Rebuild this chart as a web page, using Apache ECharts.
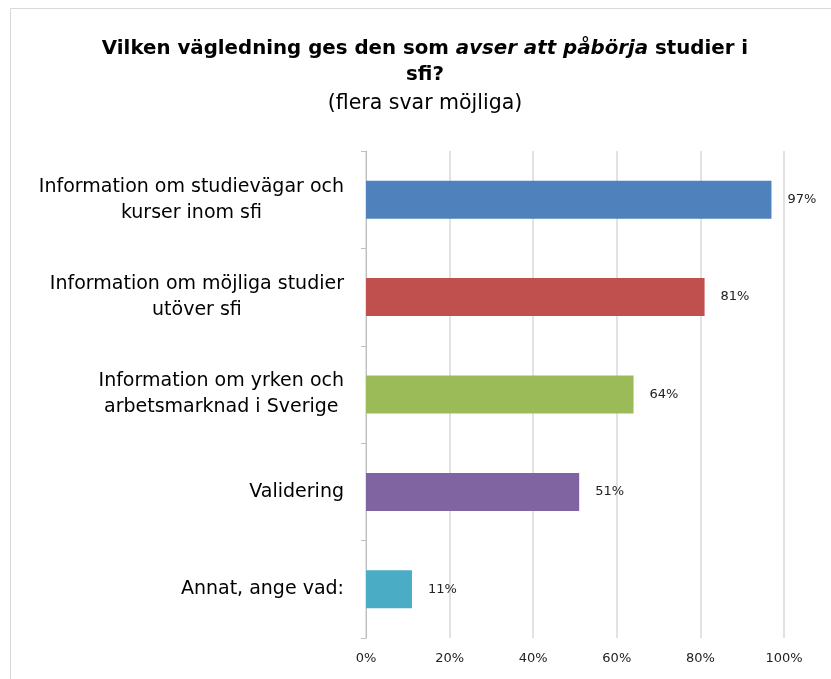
<!DOCTYPE html>
<html>
<head>
<meta charset="utf-8">
<script src="https://cdn.jsdelivr.net/npm/echarts@6/dist/echarts.min.js"></script>
<style>
html,body{margin:0;padding:0;background:#fff;}
#chart{width:831px;height:679px;}
</style>
</head>
<body>
<div id="chart"></div>
<script>
const categories = [
  "Information om studievägar och\nkurser inom sfi",
  "Information om möjliga studier\nutöver sfi",
  "Information om yrken och\narbetsmarknad i Sverige",
  "Validering",
  "Annat, ange vad:"
];
const values = [97, 81, 64, 51, 11];
const xTicks = [0, 20, 40, 60, 80, 100];
const barColors = ["#4F81BD", "#C0504D", "#9BBB59", "#8064A2", "#4BACC6"];

const FONT = "DejaVu Sans";
const chart = echarts.init(document.getElementById('chart'), null, {renderer: 'canvas'});
chart.setOption({
  backgroundColor: '#fff',
  animation: false,
  textStyle: {fontFamily: FONT},
  graphic: [{
    type: 'rect', shape: {x: 10.5, y: 8.5, width: 900, height: 800},
    style: {fill: 'none', stroke: '#d9d9d9', lineWidth: 1}, silent: true, z: -10
  }],
  title: {
    left: 420, top: 31, textAlign: 'center',
    text: 'Vilken vägledning ges den som {i|avser att påbörja} studier i\nsfi?',
    subtext: '(flera svar möjliga)',
    itemGap: 3,
    textStyle: {
      fontFamily: FONT, fontSize: 19.8, fontWeight: 'bold', color: '#000', lineHeight: 26,
      rich: {i: {fontFamily: FONT, fontSize: 19.8, fontWeight: 'bold', fontStyle: 'italic', color: '#000', lineHeight: 26}}
    },
    subtextStyle: {fontFamily: FONT, fontSize: 20.5, color: '#000', lineHeight: 26}
  },
  grid: {left: 366, right: 47, top: 151, bottom: 41, containLabel: false},
  xAxis: {
    type: 'value', min: 0, max: 100, interval: 20,
    axisLine: {show: false}, axisTick: {show: false},
    splitLine: {show: true, lineStyle: {color: '#d9d9d9', width: 1.5}},
    axisLabel: {
      margin: 14, fontFamily: FONT, fontSize: 13, color: '#222',
      formatter: v => xTicks.includes(v) ? v + '%' : ''
    }
  },
  yAxis: {
    type: 'category', inverse: true, data: categories,
    axisLine: {show: true, lineStyle: {color: '#bfbfbf', width: 1}},
    axisTick: {show: true, length: 5, lineStyle: {color: '#bfbfbf'}},
    axisLabel: {
      margin: 22, fontFamily: FONT, fontSize: 19, color: '#000',
      formatter: v => v.split('\n').map(s => '{c|' + s + '}').join('\n'),
      rich: {c: {align: 'center', fontFamily: FONT, fontSize: 19, color: '#000', lineHeight: 26}}
    }
  },
  series: [{
    type: 'bar', barWidth: 38,
    data: values.map((v, i) => ({value: v, itemStyle: {color: barColors[i]}})),
    label: {
      show: true, position: 'right', distance: 16,
      fontFamily: FONT, fontSize: 13, color: '#222',
      formatter: p => p.value + '%'
    }
  }]
});
</script>
</body>
</html>
